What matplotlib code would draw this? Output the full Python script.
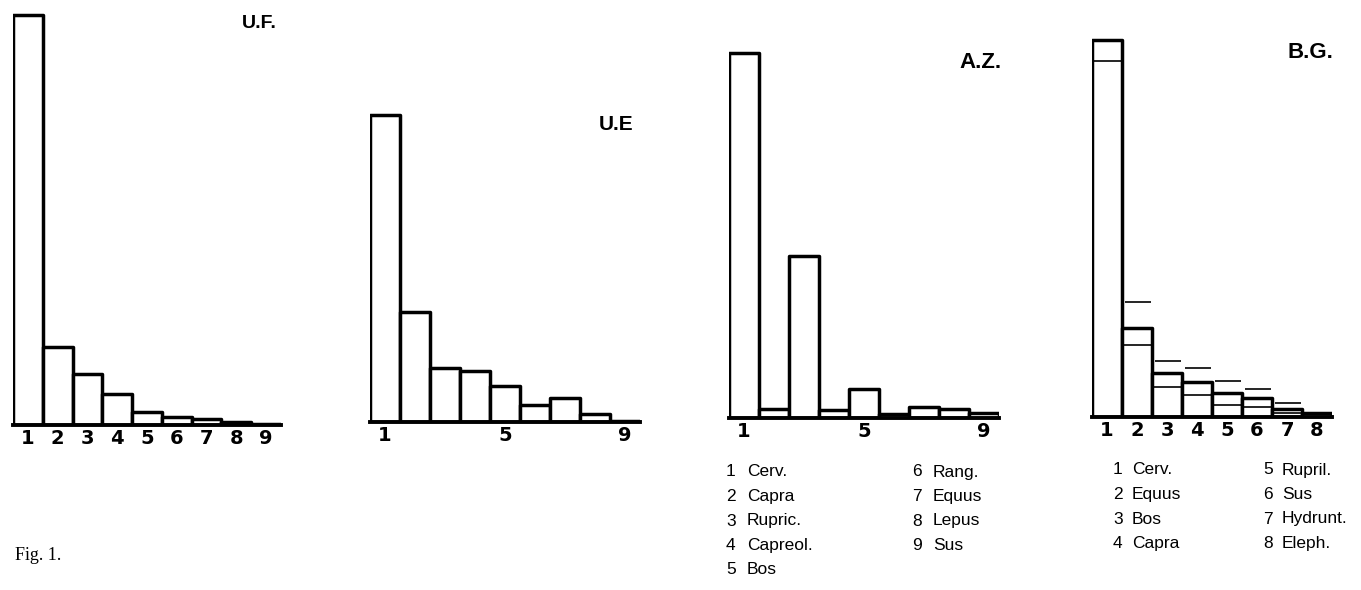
import numpy as np
import matplotlib
matplotlib.use("Agg")
import matplotlib.pyplot as plt

# ---------------- data (percent of remains) ----------------
uf_labels = ["1", "2", "3", "4", "5", "6", "7", "8", "9"]
uf_values = [68.3, 13.0, 8.5, 5.2, 2.2, 1.3, 1.0, 0.5, 0.2]

ue_labels = ["1", "", "", "", "5", "", "", "", "9"]
ue_values = [51.2, 18.3, 9.0, 8.5, 6.0, 2.8, 4.0, 1.3, 0.2]

az_labels = ["1", "", "", "", "5", "", "", "", "9"]
az_values = [60.8, 1.5, 27.0, 1.3, 4.8, 0.7, 1.8, 1.5, 0.8]
az_taxa = ["Cerv.", "Capra", "Rupric.", "Capreol.", "Bos", "Rang.", "Equus", "Lepus", "Sus"]

bg_labels = ["1", "2", "3", "4", "5", "6", "7", "8"]
bg_values = [62.8, 14.8, 7.3, 5.8, 4.0, 3.2, 1.3, 0.7]
bg_lower = [59.3, 12.0, 5.0, 3.7, 2.0, 1.7, 0.7, np.nan]
bg_upper = [np.nan, 19.2, 9.3, 8.2, 6.0, 4.7, 2.3, np.nan]
bg_taxa = ["Cerv.", "Equus", "Bos", "Capra", "Rupril.", "Sus", "Hydrunt.", "Eleph."]

titles = ["U.F.", "U.E", "A.Z.", "B.G."]

# ---------------- layout ----------------
W, H = 1361, 590
fig = plt.figure(figsize=(W / 100, H / 100), dpi=100)
fig.patch.set_facecolor("white")

YMAX = 70.0
PX_PER_UNIT = 6.0
AX_H = YMAX * PX_PER_UNIT

def fx(x):
    return x / W

def fy(y):
    return 1 - y / H

def panel(left, right, base, labels, values):
    n = len(values)
    ax = fig.add_axes([fx(left), (H - base) / H, (right - left) / W, AX_H / H])
    ax.set_xlim(0.5, n + 0.5)
    ax.set_ylim(0, YMAX)
    x = np.arange(1, n + 1)
    ax.bar(x, values, width=1.0, color="white", edgecolor="black",
           linewidth=2.5, joinstyle="round", zorder=2)
    for s in ["left", "top", "right"]:
        ax.spines[s].set_visible(False)
    ax.spines["bottom"].set_linewidth(2.8)
    ax.spines["bottom"].set_zorder(3)
    ax.set_yticks([])
    ax.set_xticks(x)
    ax.set_xticklabels(labels)
    ax.tick_params(axis="x", length=0, pad=3.0)
    for t in ax.get_xticklabels():
        t.set_fontfamily("DejaVu Sans")
        t.set_fontweight("bold")
        t.set_fontsize(14)
    ax.patch.set_alpha(0)
    return ax, x

ax1, _ = panel(13, 281, 425, uf_labels, uf_values)
ax2, _ = panel(370, 640, 422, ue_labels, ue_values)
ax3, _ = panel(729, 999, 418, az_labels, az_values)
ax4, xb = panel(1092, 1332, 417, bg_labels, bg_values)

# B.G. range lines (lower inside the bar, upper above it)
ax4.hlines(bg_lower, xb - 0.47, xb + 0.47, colors="black", linewidth=1.2, zorder=3)
ax4.hlines(bg_upper, xb - 0.40, xb + 0.47, colors="black", linewidth=1.2, zorder=3)

# titles
title_pos = [(277, 23, 14), (633, 125, 15), (1002, 62, 16), (1333, 53, 16)]
for t, (x, y, fs) in zip(titles, title_pos):
    fig.text(fx(x), fy(y), t, ha="right", va="center", fontsize=fs,
             fontweight="heavy", family="Liberation Sans")

# legends
def legend(items, num_x, name_x, num_x2, name_x2, y0, dy, split):
    for i, name in enumerate(items):
        if i < split:
            nx, tx, y = num_x, name_x, y0 + i * dy
        else:
            nx, tx, y = num_x2, name_x2, y0 + (i - split) * dy
        fig.text(fx(nx), fy(y), str(i + 1), ha="left", va="center",
                 fontsize=12.5, family="Liberation Sans")
        fig.text(fx(tx), fy(y), name, ha="left", va="center",
                 fontsize=12.5, family="Liberation Sans")

legend(az_taxa, 726, 747, 912, 933, 472, 24.5, 5)
legend(bg_taxa, 1113, 1132, 1263, 1282, 470, 24.5, 4)

fig.text(fx(15), fy(556), "Fig. 1.", ha="left", va="center",
         fontsize=13, family="Liberation Serif")

fig.savefig("out.png", dpi=100, facecolor="white")
